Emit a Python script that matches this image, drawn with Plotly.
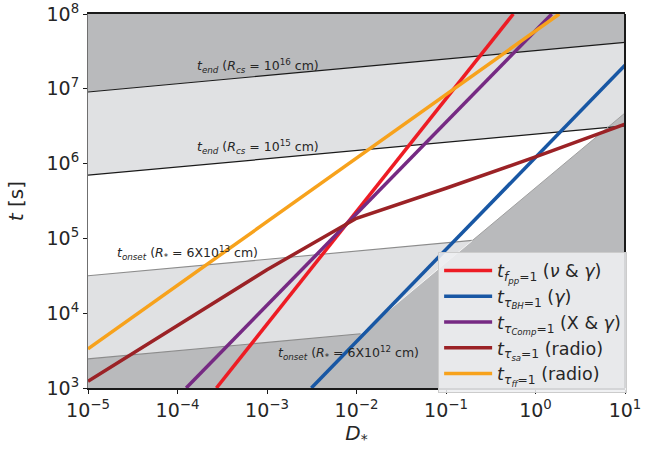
import numpy as np
import plotly.graph_objects as go

# ---------------- data ----------------
# shaded-band boundary lines, read at the left and right plot edges
D_edge = [1e-5, 10.0]
t_end_16 = [9.06e6, 4.17e7]      # t_end (R_cs = 1e16 cm)
t_end_15 = [7.0e5, 3.19e6]       # t_end (R_cs = 1e15 cm)
t_onset_13 = [3.16e4, 1.45e5]    # t_onset (R* = 6e13 cm)
t_onset_12 = [2.45e3, 1.12e4]    # t_onset (R* = 6e12 cm)
# diagonal edge of the lower-right shaded region
D_diag = [2.1e-3, 10.0]
t_diag = [1.0e3, 4.75e6]

# curves
D_fpp = [2.72e-4, 1e-3, 1e-2, 1e-1, 0.565]
t_fpp = [1.0e3, 7.13e3, 2.29e5, 7.36e6, 1.0e8]

D_bh = [3.13e-3, 1e-2, 1e-1, 1.0, 10.0]
t_bh = [1.0e3, 4.18e3, 7.1e4, 1.21e6, 2.06e7]

D_comp = [1.25e-4, 1e-3, 1e-2, 1e-1, 1.52]
t_comp = [1.0e3, 1.27e4, 2.13e5, 3.58e6, 1.0e8]

D_sa = [1e-5, 1e-4, 1e-3, 3.2e-3, 1e-2, 1e-1, 1.0, 10.0]
t_sa = [1.23e3, 6.9e3, 3.8e4, 8.5e4, 1.86e5, 4.68e5, 1.23e6, 3.37e6]

D_ff = [1e-5, 1e-4, 1e-3, 1e-2, 1e-1, 1.845]
t_ff = [3.33e3, 2.36e4, 1.67e5, 1.18e6, 8.38e6, 1.0e8]

x_ticks = [-5, -4, -3, -2, -1, 0, 1]
y_ticks = [3, 4, 5, 6, 7, 8]

# ---------------- styles ----------------
FONT = "DejaVu Sans"
DARK = "#b9babc"
LIGHT = "#e0e1e3"
C_RED, C_BLUE, C_PURPLE, C_BROWN, C_ORANGE = "#ed1c24", "#1857a4", "#762a83", "#9b2226", "#f7a21c"
XR = [-5, 1]
YR = [3, 8]

L = np.log10


def line_pts(xs, ys):
    return (L(xs[0]), L(ys[0])), (L(xs[1]), L(ys[1]))


def at(line, x):
    (x0, y0), (x1, y1) = line
    return y0 + (y1 - y0) * (x - x0) / (x1 - x0)


def intersect(a, b):
    (ax0, ay0), (ax1, ay1) = a
    (bx0, by0), (bx1, by1) = b
    ma = (ay1 - ay0) / (ax1 - ax0)
    mb = (by1 - by0) / (bx1 - bx0)
    x = (by0 - ay0 + ma * ax0 - mb * bx0) / (ma - mb)
    return x, ay0 + ma * (x - ax0)


e16 = line_pts(D_edge, t_end_16)
e15 = line_pts(D_edge, t_end_15)
o13 = line_pts(D_edge, t_onset_13)
o12 = line_pts(D_edge, t_onset_12)
dg = line_pts(D_diag, t_diag)
P13 = intersect(o13, dg)
P12 = intersect(o12, dg)
x0, x1 = XR
diag_at_bottom = dg[0][0] + (YR[0] - dg[0][1]) * (dg[1][0] - dg[0][0]) / (dg[1][1] - dg[0][1])

fig = go.Figure()


def poly(pts, color):
    xs = [10 ** p[0] for p in pts] + [10 ** pts[0][0]]
    ys = [10 ** p[1] for p in pts] + [10 ** pts[0][1]]
    fig.add_trace(go.Scatter(x=xs, y=ys, mode="lines", fill="toself", fillcolor=color,
                             line=dict(width=0, color=color), showlegend=False, hoverinfo="skip"))


def seg(pts, color, width):
    fig.add_trace(go.Scatter(x=[10 ** p[0] for p in pts], y=[10 ** p[1] for p in pts], mode="lines",
                             line=dict(color=color, width=width), showlegend=False, hoverinfo="skip"))


# shaded regions
poly([(x0, at(e16, x0)), (x1, at(e16, x1)), (x1, YR[1]), (x0, YR[1])], DARK)
poly([(x0, at(e15, x0)), (x1, at(e15, x1)), (x1, at(e16, x1)), (x0, at(e16, x0))], LIGHT)
poly([(x0, YR[0]), (x0, at(o13, x0)), P13, (diag_at_bottom, YR[0])], LIGHT)
poly([(x0, YR[0]), (x0, at(o12, x0)), P12, (x1, at(dg, x1)), (x1, YR[0])], DARK)

# boundary lines
seg([(x0, at(e16, x0)), (x1, at(e16, x1))], "#1a1a1a", 1.2)
seg([(x0, at(e15, x0)), (x1, at(e15, x1))], "#1a1a1a", 1.2)
seg([(x0, at(o13, x0)), P13], "#8c8c8c", 1.1)
seg([(x0, at(o12, x0)), P12], "#8c8c8c", 1.1)
seg([P12, P13], "#f4f4f4", 1.0)
seg([P13, (x1, at(dg, x1))], "#a0a0a0", 1.0)

# curves
curves = [
    (D_fpp, t_fpp, C_RED, "<i>t</i><sub><i>f</i><sub><i>pp</i></sub>=1</sub> (<i>ν</i> & <i>γ</i>)"),
    (D_bh, t_bh, C_BLUE, "<i>t</i><sub><i>τ</i><sub><i>BH</i></sub>=1</sub> (<i>γ</i>)"),
    (D_comp, t_comp, C_PURPLE, "<i>t</i><sub><i>τ</i><sub><i>Comp</i></sub>=1</sub> (X & <i>γ</i>)"),
    (D_sa, t_sa, C_BROWN, "<i>t</i><sub><i>τ</i><sub><i>sa</i></sub>=1</sub> (radio)"),
    (D_ff, t_ff, C_ORANGE, "<i>t</i><sub><i>τ</i><sub><i>ff</i></sub>=1</sub> (radio)"),
]
for xs, ys, c, name in curves:
    fig.add_trace(go.Scatter(x=xs, y=ys, mode="lines", line=dict(color=c, width=3.5), name=name))

# labels on the bands
ann = [
    (-3.106, 7.31, "<i>t</i><sub><i>end</i></sub> (<i>R</i><sub><i>cs</i></sub> = 10<sup>16</sup> cm)"),
    (-3.106, 6.22, "<i>t</i><sub><i>end</i></sub> (<i>R</i><sub><i>cs</i></sub> = 10<sup>15</sup> cm)"),
    (-3.888, 4.81, "<i>t</i><sub><i>onset</i></sub> (<i>R</i><sub>*</sub> = 6X10<sup>13</sup> cm)"),
    (-2.084, 3.47, "<i>t</i><sub><i>onset</i></sub> (<i>R</i><sub>*</sub> = 6X10<sup>12</sup> cm)"),
]
for ax_, ay_, txt in ann:
    fig.add_annotation(x=ax_, y=ay_, xref="x", yref="y", text=txt, showarrow=False,
                       font=dict(family=FONT, size=12.5, color="#262626"))


def tick_text(v):
    return "10<sup>" + (str(v) if v >= 0 else "\u2212" + str(-v)) + "</sup>"


fig.update_layout(
    width=667, height=449,
    margin=dict(l=88, r=42, t=13.5, b=60.7, autoexpand=False),
    paper_bgcolor="white", plot_bgcolor="white",
    font=dict(family=FONT, color="#262626"),
    showlegend=True,
    legend=dict(x=0.652, y=0.3645, xanchor="left", yanchor="top",
                bgcolor="rgba(238,239,241,0.88)", bordercolor="#cccccc", borderwidth=1,
                font=dict(family=FONT, size=17.5, color="#262626"), itemwidth=48,
                tracegroupgap=0),
    xaxis=dict(type="log", range=XR, tickvals=[10.0 ** v for v in x_ticks], automargin=False,
               ticktext=[tick_text(v) for v in x_ticks], tickfont=dict(size=19, family=FONT),
               showgrid=False, zeroline=False, showline=True, linecolor="#1a1a1a", linewidth=1.5,
               mirror=True, ticks="outside", ticklen=4, tickcolor="#1a1a1a",
               title=dict(text="<i>D</i><sub>*</sub>", font=dict(size=20, family=FONT), standoff=6)),
    yaxis=dict(type="log", range=YR, tickvals=[10.0 ** v for v in y_ticks], automargin=False,
               ticktext=[tick_text(v) for v in y_ticks], tickfont=dict(size=19, family=FONT),
               showgrid=False, zeroline=False, showline=True, linecolor="#6f6f6f", linewidth=1.2,
               mirror=False, ticks="outside", ticklen=4, tickcolor="#1a1a1a",
               title=dict(text="<i>t</i> [s]", font=dict(size=20, family=FONT), standoff=17)),
)
fig.add_shape(type="line", xref="paper", yref="paper", x0=1, x1=1, y0=0, y1=1,
              line=dict(color="#1a1a1a", width=2))

fig.write_html("out.html")
